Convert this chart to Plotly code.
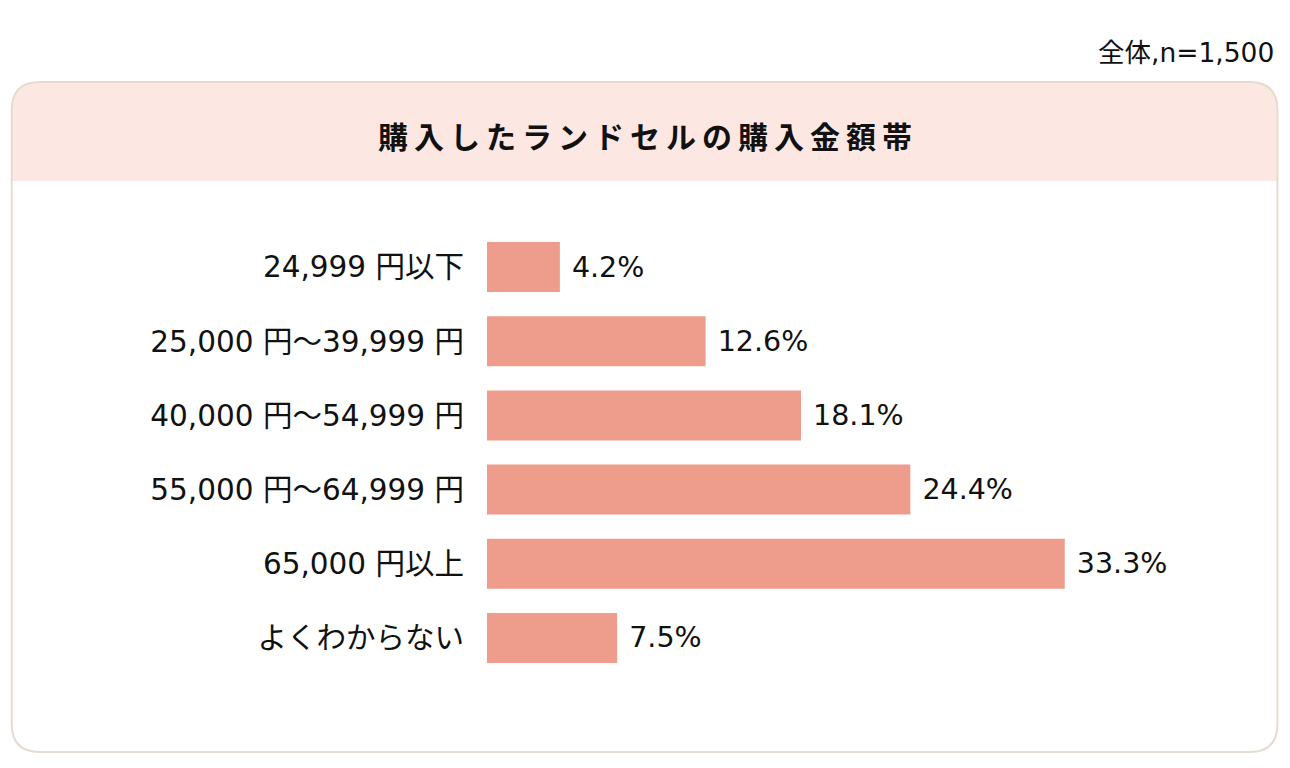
import plotly.graph_objects as go

categories = ["24,999 円以下", "25,000 円〜39,999 円", "40,000 円〜54,999 円",
              "55,000 円〜64,999 円", "65,000 円以上", "よくわからない"]
values = [4.2, 12.6, 18.1, 24.4, 33.3, 7.5]
value_labels = ["4.2%", "12.6%", "18.1%", "24.4%", "33.3%", "7.5%"]
title_text = "購入したランドセルの購入金額帯"
note_text = "全体,n=1,500"

W, H = 1290, 768
PL, PR, PT, PB = 487, 1180.6, 230, 675
XMAX = 40

def px(x):
    return (x - PL) / (PR - PL)

def py(y):
    return (PB - y) / (PB - PT)

FONT = "Noto Sans CJK JP, Noto Sans, sans-serif"
LFONT = "DejaVu Sans, Noto Sans CJK JP, sans-serif"

fig = go.Figure(go.Bar(
    x=values, y=categories, orientation="h",
    marker=dict(color="#EE9C8B", line=dict(width=0)),
    width=0.675,
    text=[" " + t for t in value_labels], textposition="outside",
    textfont=dict(family=LFONT, size=28.5, color="#111111"),
    cliponaxis=False, hoverinfo="skip",
))

# box geometry
bx0, bx1, by0, by1, r = 12, 1277, 82, 752, 28
hy = 181

def rounded_path(x0, y0, x1, y1, rr, bottom_round=True):
    p = f"M {px(x0+rr)} {py(y0)} L {px(x1-rr)} {py(y0)} Q {px(x1)} {py(y0)} {px(x1)} {py(y0+rr)} "
    if bottom_round:
        p += f"L {px(x1)} {py(y1-rr)} Q {px(x1)} {py(y1)} {px(x1-rr)} {py(y1)} L {px(x0+rr)} {py(y1)} Q {px(x0)} {py(y1)} {px(x0)} {py(y1-rr)} "
    else:
        p += f"L {px(x1)} {py(y1)} L {px(x0)} {py(y1)} "
    p += f"L {px(x0)} {py(y0+rr)} Q {px(x0)} {py(y0)} {px(x0+rr)} {py(y0)} Z"
    return p

shapes = [
    dict(type="path", xref="paper", yref="paper", path=rounded_path(bx0, by0, bx1, hy, r, False),
         fillcolor="#FDE7E3", line=dict(width=0), layer="below"),
    dict(type="path", xref="paper", yref="paper", path=rounded_path(bx0, by0, bx1, by1, r, True),
         fillcolor="rgba(0,0,0,0)", line=dict(color="#E5DCCF", width=2), layer="below"),
]

spaced_title = "\u2009".join(title_text)

annotations = [
    dict(xref="paper", yref="paper", x=px(645), y=py(135), text=spaced_title, showarrow=False,
         font=dict(family=FONT, size=30, color="#111111", weight="bold"), xanchor="center", yanchor="middle"),
    dict(xref="paper", yref="paper", x=px(1276), y=py(52), text=note_text, showarrow=False,
         font=dict(family=LFONT, size=26.5, color="#111111"), xanchor="right", yanchor="middle"),
]

fig.update_layout(
    width=W, height=H, autosize=False,
    margin=dict(l=PL, r=W - PR, t=PT, b=H - PB, pad=0),
    paper_bgcolor="white", plot_bgcolor="rgba(0,0,0,0)",
    showlegend=False, shapes=shapes, annotations=annotations,
    xaxis=dict(range=[0, XMAX], visible=False, fixedrange=True),
    yaxis=dict(autorange="reversed", showgrid=False, zeroline=False, showline=False,
               ticks="", ticklabelstandoff=22,
               tickfont=dict(family=LFONT, size=29.5, color="#111111"), fixedrange=True),
    bargap=0.325,
)

fig.write_html("out.html", config={"displayModeBar": False})
